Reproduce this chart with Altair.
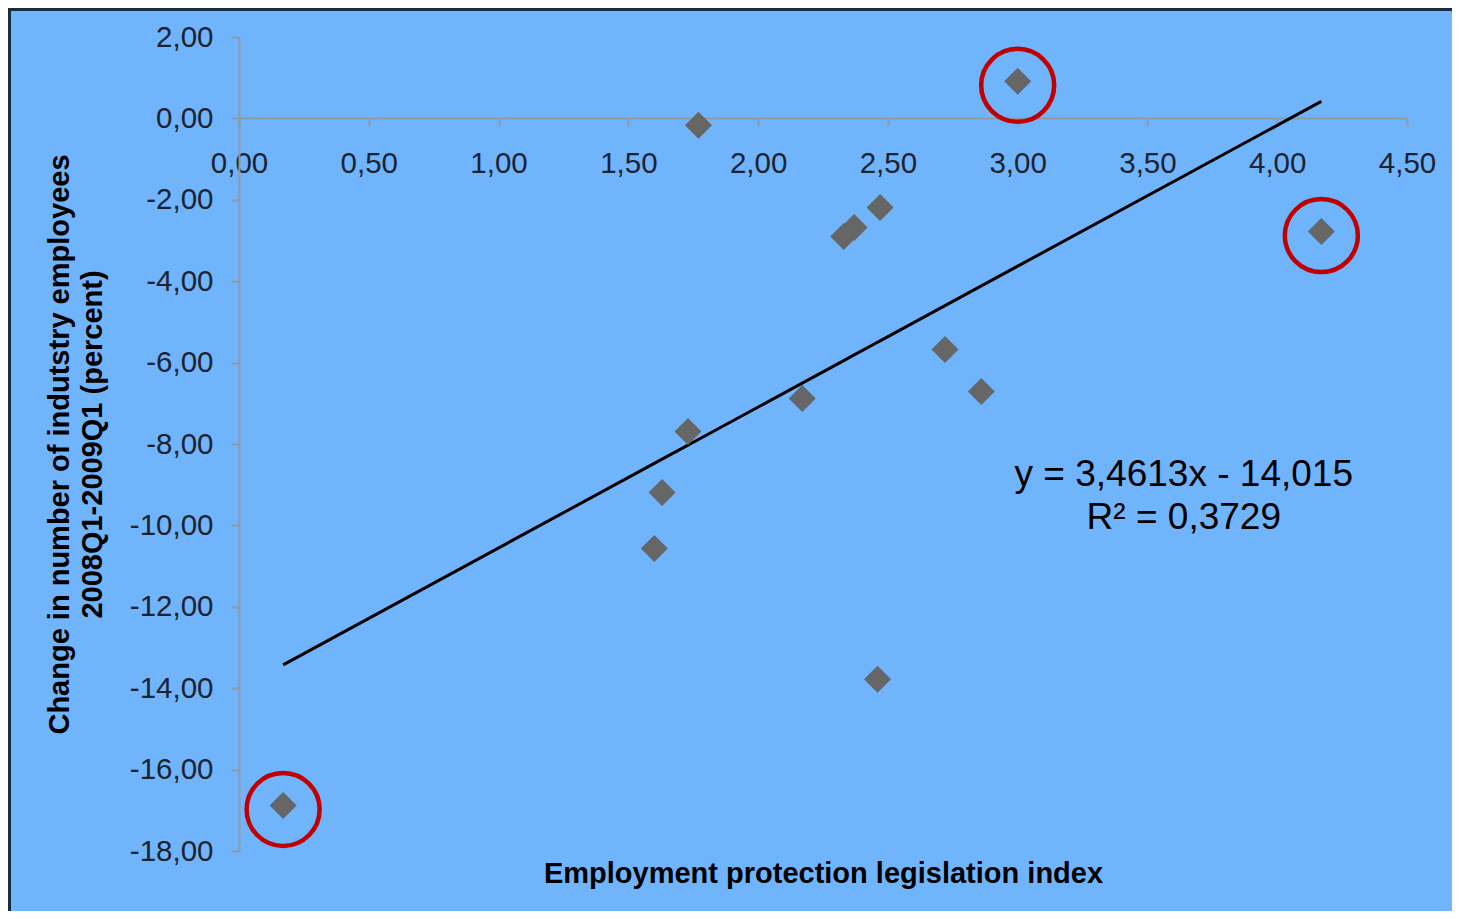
import altair as alt
import pandas as pd

# Data
epl_index = [0.17, 1.77, 3.00, 4.17, 2.47, 2.37, 2.33, 2.72, 2.86, 2.17, 1.73, 1.63, 1.60, 2.46]
emp_change = [-16.88, -0.17, 0.91, -2.78, -2.19, -2.68, -2.90, -5.68, -6.71, -6.88, -7.69, -9.19, -10.57, -13.78]
highlighted = [True, False, True, True, False, False, False, False, False, False, False, False, False, False]

trend_slope = 3.4613
trend_intercept = -14.015
equation_lines = ["y = 3,4613x - 14,015", "R² = 0,3729"]
equation_pos_x = [3.64]
equation_pos_y = [-8.75]

x_ticks = [0.0, 0.5, 1.0, 1.5, 2.0, 2.5, 3.0, 3.5, 4.0, 4.5]
y_ticks = [2, 0, -2, -4, -6, -8, -10, -12, -14, -16, -18]

x_title = "Employment protection legislation index"
y_title = ["Change in number of indutstry employees", "2008Q1-2009Q1 (percent)"]

df = pd.DataFrame({"epl": epl_index, "chg": emp_change, "hl": highlighted})
eq_df = pd.DataFrame({"x": equation_pos_x, "y": equation_pos_y})

FONT = "Liberation Sans"
label_expr = "(datum.value < 0 ? '-' : '') + replace(format(abs(datum.value), '.2f'), '.', ',')"
AXIS_GRAY = "#8e9aa6"
LABEL_COLOR = "#1b2230"
FRAME_COLOR = "#1c2b3f"

x_scale = alt.Scale(domain=[0, 4.5], nice=False, zero=False)
y_scale = alt.Scale(domain=[-18, 2], nice=False, zero=False)

x_enc = alt.X(
    "epl:Q",
    scale=x_scale,
    axis=alt.Axis(
        values=x_ticks,
        labelExpr=label_expr,
        orient="bottom",
        offset=-733,
        grid=False,
        domainColor=AXIS_GRAY,
        domainWidth=2,
        tickColor=AXIS_GRAY,
        tickWidth=2,
        tickSize=8,
        labelFont=FONT,
        labelFontSize=29.5,
        labelColor=LABEL_COLOR,
        labelPadding=23,
        labelFlush=False,
        labelOverlap=False,
        title=x_title,
        titleFont=FONT,
        titleFontSize=29,
        titleFontWeight="bold",
        titleColor="#000000",
        titleY=755,
        titleBaseline="middle",
    ),
)

y_enc = alt.Y(
    "chg:Q",
    scale=y_scale,
    axis=alt.Axis(
        values=y_ticks,
        labelExpr=label_expr,
        orient="left",
        grid=False,
        domainColor=AXIS_GRAY,
        domainWidth=2,
        tickColor=AXIS_GRAY,
        tickWidth=2,
        tickSize=8,
        labelFont=FONT,
        labelFontSize=29.5,
        labelColor=LABEL_COLOR,
        labelPadding=18,
        labelFlush=False,
        labelOverlap=False,
        title=y_title,
        titleFont=FONT,
        titleFontSize=29,
        titleFontWeight="bold",
        titleColor="#000000",
        titlePadding=22,
        titleLineHeight=33,
    ),
)

base = alt.Chart(df)

trend = base.transform_calculate(
    fit=f"{trend_slope} * datum.epl + ({trend_intercept})"
).mark_line(color="#000000", strokeWidth=3).encode(
    x=x_enc,
    y=alt.Y("fit:Q", scale=y_scale),
)

points = base.mark_point(
    shape="diamond", filled=True, color="#666666", size=729, opacity=1
).encode(x=x_enc, y=y_enc)

circles = base.transform_filter("datum.hl").mark_point(
    shape="circle", filled=False, color="#c00000", strokeWidth=4.5, size=5329, opacity=1, yOffset=4
).encode(x=x_enc, y=y_enc)

equation = alt.Chart(eq_df).mark_text(
    font=FONT, fontSize=37, color="#000000", align="center", baseline="middle", lineHeight=43
).encode(
    x=alt.X("x:Q", scale=x_scale),
    y=alt.Y("y:Q", scale=y_scale),
    text=alt.value(equation_lines),
)

# decorative frame lines at the left and top edge of the slide area
frame_left = alt.Chart(eq_df).mark_rule(color=FRAME_COLOR, strokeWidth=3).encode(
    x=alt.value(-229.5), y=alt.value(-28), y2=alt.value(880)
)
frame_top = alt.Chart(eq_df).mark_rule(color=FRAME_COLOR, strokeWidth=3).encode(
    x=alt.value(-231), x2=alt.value(1220), y=alt.value(-27.5)
)

chart = alt.layer(frame_left, frame_top, trend, points, circles, equation).properties(
    width=1168,
    height=814,
    autosize=alt.AutoSizeParams(type="none"),
    padding={"left": 231, "top": 29, "right": 45, "bottom": 60},
    background="#70b4fc",
).configure_view(stroke=None)

chart.save("out.html", embed_options={"renderer": "svg", "actions": False})
